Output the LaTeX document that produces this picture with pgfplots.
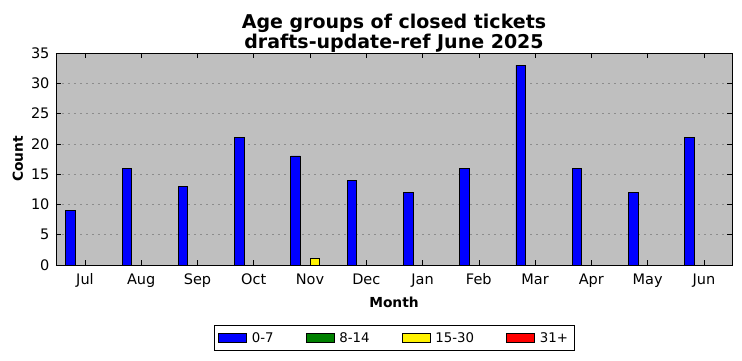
\documentclass[border=0pt]{standalone}
\usepackage{pgfplots}
\pgfplotsset{compat=1.18}
\usepackage{fontspec}
\setmainfont{DejaVu Sans}
\begin{document}
\begin{tikzpicture}[x=1pt,y=1pt]
\begin{axis}[
  at={(0,0)}, anchor=south west,
  scale only axis, width=676pt, height=212pt,
  ybar, bar width=0.17,
  xmin=-0.515, xmax=11.5, ymin=0, ymax=35,
  xtick={0,...,11},
  xticklabels={Jul,Aug,Sep,Oct,Nov,Dec,Jan,Feb,Mar,Apr,May,Jun},
  ytick={0,5,...,35},
  tick align=inside, major tick length=5pt,
  tick style={black, line width=0.6pt},
  axis line style={black, line width=0.9pt},
  axis background/.style={fill=black!25},
  ymajorgrids, major grid style={black!45, dash pattern=on 2pt off 4pt, line width=0.7pt},
  /pgf/number format/assume math mode=true,
  tick label style={font=\fontsize{14.5}{15}\selectfont},
  xticklabel style={yshift=-5pt},
  yticklabel style={xshift=-3pt},
  xlabel={\bfseries Month}, ylabel={\bfseries Count},
  label style={font=\fontsize{13.8}{15}\selectfont},
  xlabel style={yshift=-3pt},
  ylabel style={yshift=1pt},
  title={\bfseries Age groups of closed tickets\\\bfseries drafts-update-ref June 2025},
  title style={font=\fontsize{19}{20.5}\selectfont, align=center, yshift=-9pt},
  legend columns=4,
  legend style={at={(0.5,-0.283)}, anchor=north, draw=black, line width=0.8pt,
    inner ysep=5pt, inner xsep=4pt,
    font=\fontsize{13.3}{14}\selectfont,
    /tikz/every odd column/.append style={column sep=3pt},
    /tikz/every even column/.append style={column sep=30pt}},
  legend image code/.code={\draw[#1, line width=0.8pt] (0pt,-4.5pt) rectangle (28pt,5pt);},
  every axis plot/.append style={draw=black, line width=0.9pt},
]
\addplot[draw=black, fill=blue, bar shift=-0.255] coordinates {(0,9)(1,16)(2,13)(3,21)(4,18)(5,14)(6,12)(7,16)(8,33)(9,16)(10,12)(11,21)};
\addlegendimage{draw=black, fill=green!50!black}
\addplot[draw=black, fill=yellow, bar shift=0.085] coordinates {(4,1)};
\addlegendimage{draw=black, fill=red}
\legend{0-7,8-14,15-30,31+}
\end{axis}
\path[use as bounding box] (-56pt,-96pt) rectangle ++(742pt,361pt);
\end{tikzpicture}
\end{document}
